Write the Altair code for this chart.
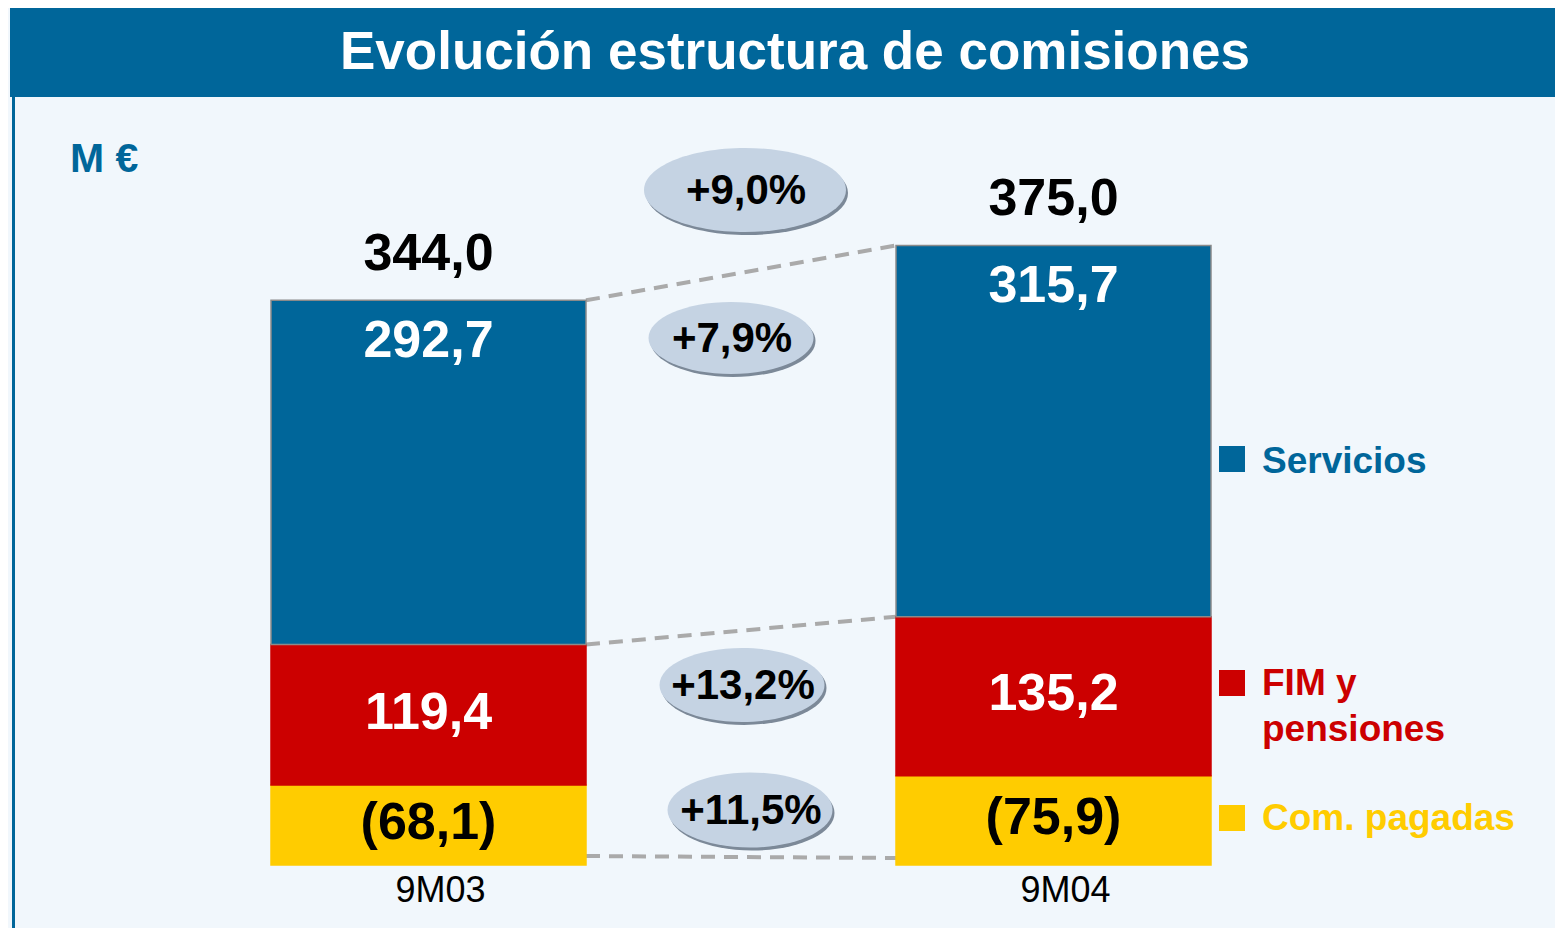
import altair as alt
import pandas as pd

# ---------------- data ----------------
categories = ["9M03", "9M04"]
servicios = [292.7, 315.7]
fim_pensiones = [119.4, 135.2]
com_pagadas = [-68.1, -75.9]
series_names = ["Servicios", "FIM y pensiones", "Com. pagadas"]
series_colors = ["#00669A", "#CC0000", "#FFCC00"]
title_text = "Evolución estructura de comisiones"
unit_text = "M €"

FONT = "Liberation Sans"


def fmt(v):
    return f"{v:.1f}".replace(".", ",")


def growth(a, b):
    return "+" + fmt((abs(b) / abs(a) - 1) * 100) + "%"


# stacked segments (absolute heights, paid commissions at the bottom)
rows = []
stack_top = []
stack_mid = []
for i, c in enumerate(categories):
    base = 0.0
    for name, vals in [("Com. pagadas", com_pagadas),
                       ("FIM y pensiones", fim_pensiones),
                       ("Servicios", servicios)]:
        v = vals[i]
        h = abs(v)
        label = f"({fmt(h)})" if v < 0 else fmt(v)
        rows.append(dict(cat=c, seg=name, y0=base, y1=base + h,
                         mid=base + h / 2, label=label))
        base += h
        if name == "FIM y pensiones":
            stack_mid.append(base)
    stack_top.append(base)
bars_df = pd.DataFrame(rows)

totals = [servicios[i] + fim_pensiones[i] + com_pagadas[i] for i in range(len(categories))]
tot_df = pd.DataFrame({"cat": categories, "top": stack_top,
                       "label": [fmt(t) for t in totals]})

growth_labels = [
    growth(totals[0], totals[1]),
    growth(servicios[0], servicios[1]),
    growth(fim_pensiones[0], fim_pensiones[1]),
    growth(com_pagadas[0], com_pagadas[1]),
]

conn_df = pd.DataFrame({"a": [stack_top[0], stack_mid[0]],
                        "b": [stack_top[1], stack_mid[1]]})
conn_bottom_df = pd.DataFrame({"a": [0.0], "b": [0.0]})

one = pd.DataFrame({"d": [0]})

# ---------------- scales ----------------
xscale = alt.Scale(domain=categories, range=[263, 1203], paddingInner=0.496, paddingOuter=0)
yscale = alt.Scale(domain=[0, 600], range=[857, 151.4], nice=False, zero=False)

X = alt.X("cat:N", scale=xscale, axis=None)

# ---------------- layers ----------------
layers = []

# title band + left border
layers.append(alt.Chart(one).mark_rect(color="#00669A").encode(
    x=alt.value(2), x2=alt.value(1547), y=alt.value(0), y2=alt.value(89)))
layers.append(alt.Chart(one).mark_rect(color="#00669A").encode(
    x=alt.value(4), x2=alt.value(7), y=alt.value(89), y2=alt.value(920)))
layers.append(alt.Chart(one).mark_text(
    font=FONT, fontSize=53, fontWeight="bold", color="white",
    align="center", baseline="middle").encode(
    x=alt.value(787), y=alt.value(45), text=alt.value(title_text)))

# unit
layers.append(alt.Chart(one).mark_text(
    font=FONT, fontSize=41, fontWeight="bold", color="#00669A",
    align="left", baseline="middle").encode(
    x=alt.value(62), y=alt.value(152), text=alt.value(unit_text)))

# dashed connectors
layers.append(alt.Chart(conn_df).mark_rule(
    color="#AAAAAA", strokeWidth=4, strokeDash=[14, 9]).encode(
    x=alt.value(578), x2=alt.value(888),
    y=alt.Y("a:Q", scale=yscale, axis=None), y2="b:Q"))
layers.append(alt.Chart(conn_bottom_df).mark_rule(
    color="#AAAAAA", strokeWidth=4, strokeDash=[14, 9],
    yOffset=-9, y2Offset=-7).encode(
    x=alt.value(578), x2=alt.value(888),
    y=alt.Y("a:Q", scale=yscale, axis=None), y2="b:Q"))

# bars
layers.append(alt.Chart(bars_df).mark_bar(strokeWidth=1.5).encode(
    x=X,
    y=alt.Y("y0:Q", scale=yscale, axis=None), y2="y1:Q",
    color=alt.Color("seg:N", scale=alt.Scale(domain=series_names, range=series_colors), legend=None),
    stroke=alt.Stroke("seg:N", scale=alt.Scale(domain=series_names,
                                                range=["#8A8A8A", "#CC0000", "#FFCC00"]), legend=None),
))

# segment labels
layers.append(alt.Chart(bars_df).transform_filter(alt.datum.seg == "Servicios").mark_text(
    font=FONT, fontSize=52, fontWeight="bold", color="white", baseline="middle", dy=41).encode(
    x=X, y=alt.Y("y1:Q", scale=yscale, axis=None), text="label:N"))
layers.append(alt.Chart(bars_df).transform_filter(alt.datum.seg != "Servicios").mark_text(
    font=FONT, fontSize=52, fontWeight="bold", baseline="middle", dy=-2).encode(
    x=X, y=alt.Y("mid:Q", scale=yscale, axis=None), text="label:N",
    color=alt.condition(alt.datum.seg == "Com. pagadas", alt.value("black"), alt.value("white"))))

# totals
layers.append(alt.Chart(tot_df).mark_text(
    font=FONT, fontSize=52, fontWeight="bold", color="black", baseline="middle", dy=-46).encode(
    x=X, y=alt.Y("top:Q", scale=yscale, axis=None), text="label:N"))

# category labels
layers.append(alt.Chart(pd.DataFrame({"cat": categories})).mark_text(
    font=FONT, fontSize=36, color="black", baseline="middle", dx=12).encode(
    x=X, y=alt.value(883), text="cat:N"))

# growth ellipses (cx, cy, w, h)
ellipse_layout = [(737, 182, 202, 84), (723, 330, 165, 72), (734, 677, 165, 74), (742, 802, 165, 75)]
for (cx, cy, w, h), lab in zip(ellipse_layout, growth_labels):
    r = round(h / w, 3)
    path = f"M -1 0 A 1 {r} 0 1 1 1 0 A 1 {r} 0 1 1 -1 0 Z"
    layers.append(alt.Chart(one).mark_point(
        shape=path, filled=True, color="#7C8998", opacity=1, strokeWidth=0, size=w * w).encode(
        x=alt.value(cx + 2), y=alt.value(cy + 3)))
    layers.append(alt.Chart(one).mark_point(
        shape=path, filled=True, color="#C5D3E3", opacity=1, strokeWidth=0, size=w * w).encode(
        x=alt.value(cx), y=alt.value(cy)))
    layers.append(alt.Chart(one).mark_text(
        font=FONT, fontSize=42, fontWeight="bold", color="black", baseline="middle").encode(
        x=alt.value(cx + 1), y=alt.value(cy + 1), text=alt.value(lab)))

# legend
legend_sq_y = [451, 675, 810]
legend_txt = [[("Servicios", 454)], [("FIM y", 676), ("pensiones", 722)], [("Com. pagadas", 811)]]
for name, col, sy, txts in zip(series_names, series_colors, legend_sq_y, legend_txt):
    layers.append(alt.Chart(one).mark_square(
        filled=True, color=col, opacity=1, size=26 * 26).encode(
        x=alt.value(1224), y=alt.value(sy)))
    for t, ty in txts:
        layers.append(alt.Chart(one).mark_text(
            font=FONT, fontSize=37, fontWeight="bold", color=col,
            align="left", baseline="middle").encode(
            x=alt.value(1254), y=alt.value(ty), text=alt.value(t)))

chart = alt.layer(*layers).properties(
    width=1547, height=920,
    autosize=alt.AutoSizeParams(type="none"),
    padding=0,
    background="#F1F7FC",
).configure_view(stroke=None)

chart.save("out.html", embed_options={"renderer": "svg", "actions": False})
